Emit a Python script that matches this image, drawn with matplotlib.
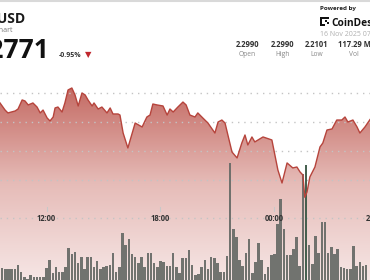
import matplotlib
matplotlib.use("Agg")
import matplotlib.pyplot as plt
import matplotlib.dates as mdates
import numpy as np
import pandas as pd
from matplotlib.colors import LinearSegmentedColormap
from matplotlib.patches import Rectangle
from matplotlib.lines import Line2D
from matplotlib.transforms import blended_transform_factory

plt.rcParams['font.family'] = ['Open Sans', 'DejaVu Sans']

# XRP/USD price trace, 15 -> 16 Nov 2025 (clock times, day rolls after midnight)
price_clock = [
    "09:33", "09:49", "09:58", "10:21", "10:30", "10:43", "10:52", "11:02", "11:17", "11:30",
    "11:40", "11:49", "12:02", "12:11", "12:21", "12:27", "12:36", "12:49", "12:58", "13:08",
    "13:20", "13:30", "13:40", "13:52", "14:02", "14:11", "14:24", "14:30", "14:43", "14:55",
    "15:11", "15:21", "15:30", "15:46", "15:52", "16:02", "16:17", "16:40", "17:02", "17:17",
    "17:27", "17:36", "17:49", "18:08", "18:21", "18:30", "18:40", "18:55", "19:11", "19:21",
    "19:33", "19:49", "19:58", "20:14", "20:30", "20:52", "21:02", "21:14", "21:24", "21:33",
    "21:46", "22:02", "22:17", "22:27", "22:36", "22:49", "22:58", "23:24", "23:52", "00:11",
    "00:24", "00:40", "00:58", "01:11", "01:21", "01:30", "01:36", "01:43", "01:52", "02:08",
    "02:24", "02:33", "02:46", "03:02", "03:17", "03:33", "03:43", "03:52", "04:08", "04:21",
    "04:30", "04:46", "05:02",
]
price = [
    2.2914, 2.2853, 2.2828, 2.2845, 2.2862, 2.2940, 2.2931, 2.2897, 2.2914, 2.2879,
    2.2828, 2.2853, 2.2784, 2.2759, 2.2793, 2.2871, 2.2879, 2.2836, 2.2914, 2.3026,
    2.3043, 2.2983, 2.2888, 2.3000, 2.2983, 2.2940, 2.2888, 2.2914, 2.2862, 2.2879,
    2.2828, 2.2871, 2.2819, 2.2819, 2.2810, 2.2655, 2.2526, 2.2741, 2.2707, 2.2793,
    2.2810, 2.2905, 2.2897, 2.2888, 2.2810, 2.2862, 2.2836, 2.2879, 2.2922, 2.2897,
    2.2810, 2.2793, 2.2828, 2.2784, 2.2741, 2.2655, 2.2750, 2.2767, 2.2741, 2.2638,
    2.2491, 2.2440, 2.2569, 2.2638, 2.2552, 2.2621, 2.2578, 2.2621, 2.2595, 2.2336,
    2.2224, 2.2397, 2.2354, 2.2362, 2.2319, 2.2293, 2.2101, 2.2147, 2.2276, 2.2362,
    2.2535, 2.2569, 2.2681, 2.2690, 2.2767, 2.2767, 2.2793, 2.2750, 2.2767, 2.2707,
    2.2655, 2.2707, 2.2771,
]

# 10-minute volume bars starting 15 Nov 09:30
vol_start = "2025-11-15 09:30"
volume = [
    12.7, 11.7, 10.7, 10.7, 10.7, 10.7, 15.0, 8.3, 3.3, 1.0,
    5.0, 3.3, 3.3, 3.3, 3.3, 11.7, 20.0, 7.3, 12.7, 8.3,
    8.3, 12.7, 32.3, 26.0, 28.3, 16.7, 22.7, 10.7, 22.7, 22.7,
    13.3, 19.3, 10.7, 12.7, 14.0, 15.0, 26.7, 8.3, 13.3, 47.3,
    35.0, 40.7, 26.0, 22.7, 17.3, 22.7, 12.7, 26.7, 26.7, 17.3,
    12.7, 19.3, 18.3, 14.0, 14.0, 26.7, 12.7, 7.3, 21.7,
    21.7, 30.0, 15.0, 5.0, 6.0, 13.3, 20.0, 10.7, 23.3, 21.7,
    16.7, 8.3, 8.3, 24.0, 117.0, 50.7, 42.7, 20.0, 14.0, 27.3,
    40.7, 6.7, 18.3, 36.7, 20.0, 6.0, 13.3, 25.0, 26.0, 56.0,
    81.0, 50.7, 25.0, 25.0, 30.7, 43.3, 14.0, 106.0, 115.0, 35.0,
    16.0, 44.0, 27.0, 58.3, 58.3, 26.7, 33.3, 26.0, 30.7, 13.3,
    11.7, 10.7, 10.7, 34.0, 14.0, 18.3, 14.0, 15.0,
]

x_labels = ["12:00", "18:00", "00:00"]
x_label_times = ["2025-11-15 12:00", "2025-11-15 18:00", "2025-11-16 00:00"]
grid_prices = [2.300, 2.275, 2.250, 2.225, 2.1922]

pair = "XRP/USD"
last_price = "$2.2771"
change = "-0.95%"
stat_values = ["2.2990", "2.2990", "2.2101", "117.29 M"]
stat_labels = ["Open", "High", "Low", "Vol"]

W, H = 370, 280


def fx(x):
    return x / W


def fy(y):
    return 1 - y / H


# build timestamps for the price trace
day = pd.Timestamp("2025-11-15")
times = []
for c in price_clock:
    t = day + pd.Timedelta(c + ":00")
    if times and t < times[-1]:
        day += pd.Timedelta(days=1)
        t += pd.Timedelta(days=1)
    times.append(t)
xs = mdates.date2num(times)

vol_times = pd.date_range(vol_start, periods=len(volume), freq="10min")
vx = mdates.date2num(vol_times)
bar_w = 8 / (24 * 60)

x0 = mdates.date2num(pd.Timestamp("2025-11-15 09:33"))
x1 = mdates.date2num(pd.Timestamp("2025-11-16 05:02"))
ymin, ymax = 2.1388, 2.3155

fig = plt.figure(figsize=(3.7, 2.8), dpi=100)
fig.patch.set_facecolor("white")
rect = [0, 0, 1, 205 / 280]
ax = fig.add_axes(rect, zorder=0)
ax_vol = fig.add_axes(rect, zorder=1)
ax_line = fig.add_axes(rect, zorder=2)
for a in (ax, ax_vol, ax_line):
    a.set_axis_off()
    a.set_xlim(x0, x1)
ax_vol.patch.set_alpha(0)
ax_line.patch.set_alpha(0)

# gradient fill under the price line
poly = ax.fill_between(xs, price, ymin, facecolor="none", edgecolor="none")
cmap = LinearSegmentedColormap.from_list("fill", ["#c46a63", "#e6bcb8", "#f6e6e5"])
grad = np.linspace(0, 1, 256).reshape(-1, 1)
im = ax.imshow(grad, cmap=cmap, aspect="auto", origin="upper",
               extent=[x0, x1, ymin, 2.305], interpolation="bilinear")
im.set_clip_path(poly.get_paths()[0], transform=ax.transData)
ax.set_xlim(x0, x1)
ax.set_ylim(ymin, ymax)

for gp in grid_prices:
    ax.axhline(gp, color="#c4c4c4", lw=1.0, linestyle=(0, (1, 3.5)), zorder=3)

# volume bars
bar_colors = ["#6a6d69"] * len(volume)
bar_colors[97] = "#3d5a48"
ax_vol.bar(vx, volume, width=bar_w, color=bar_colors, alpha=0.95, linewidth=0)
ax_vol.set_ylim(0, 205)

# price line
ax_line.plot(xs, price, color="#b6443c", lw=1.0, solid_joinstyle="round")
ax_line.set_ylim(ymin, ymax)

# time labels
trans = blended_transform_factory(ax_line.transData, ax_line.transAxes)
for lab, t in zip(x_labels, x_label_times):
    tx = mdates.date2num(pd.Timestamp(t))
    ax_line.text(tx, (280 - 221) / 205, lab, transform=trans, ha="center", va="baseline",
                 fontsize=5.5, weight="bold", color="#333333")
    ax_line.plot([tx, tx], [(280 - 207) / 205, (280 - 211) / 205], transform=trans,
                 color="#c8c8c8", lw=0.8)
fig.text(fx(366), fy(221), "2.2000", ha="left", va="baseline", fontsize=5.5,
         weight="bold", color="#333333")

# header
fig.add_artist(Line2D([0, 1], [fy(0.8), fy(0.8)], color="#d9d9d9", lw=1.5))
fig.text(fx(25), fy(23), pair, ha="right", va="baseline", fontsize=10, weight="bold", color="#1a1a1a")
fig.text(fx(13), fy(31.5), "24 Hour Price Chart", ha="right", va="baseline", fontsize=5, color="#777777")
fig.text(fx(50), fy(58), last_price, ha="right", va="baseline", fontsize=19, weight="bold", color="#111111")
fig.text(fx(59), fy(57.5), change, ha="left", va="baseline", fontsize=5, weight="bold", color="#333333")
fig.text(fx(88.5), fy(55), "▼", ha="center", va="center", fontsize=6, color="#c0272d",
         family="DejaVu Sans")

fig.text(fx(320), fy(10), "Powered by", ha="left", va="baseline", fontsize=4.5, weight="bold", color="#222222")
for (rx, ry, rw, rh) in [(320, 17, 2, 9), (320, 17, 9, 2), (320, 24, 5, 2), (325, 20, 2, 2), (327, 22, 2, 2)]:
    fig.add_artist(Rectangle((fx(rx), fy(ry + rh)), rw / W, rh / H, transform=fig.transFigure,
                             facecolor="#111111", edgecolor="none"))
fig.text(fx(331), fy(25.5), "CoinDesk", ha="left", va="baseline", fontsize=7.3, weight="bold", color="#111111")
fig.text(fx(320), fy(36), "16 Nov 2025 07:00 UTC", ha="left", va="baseline", fontsize=5, color="#b0b0b0")

stat_x = [247.5, 282.5, 317, 354]
for sx, v, lab in zip(stat_x, stat_values, stat_labels):
    fig.text(fx(sx), fy(47), v, ha="center", va="baseline", fontsize=5.5, weight="bold", color="#333333")
    fig.text(fx(sx), fy(56.5), lab, ha="center", va="baseline", fontsize=4.8, color="#888888")

fig.savefig("out.png", dpi=100)
